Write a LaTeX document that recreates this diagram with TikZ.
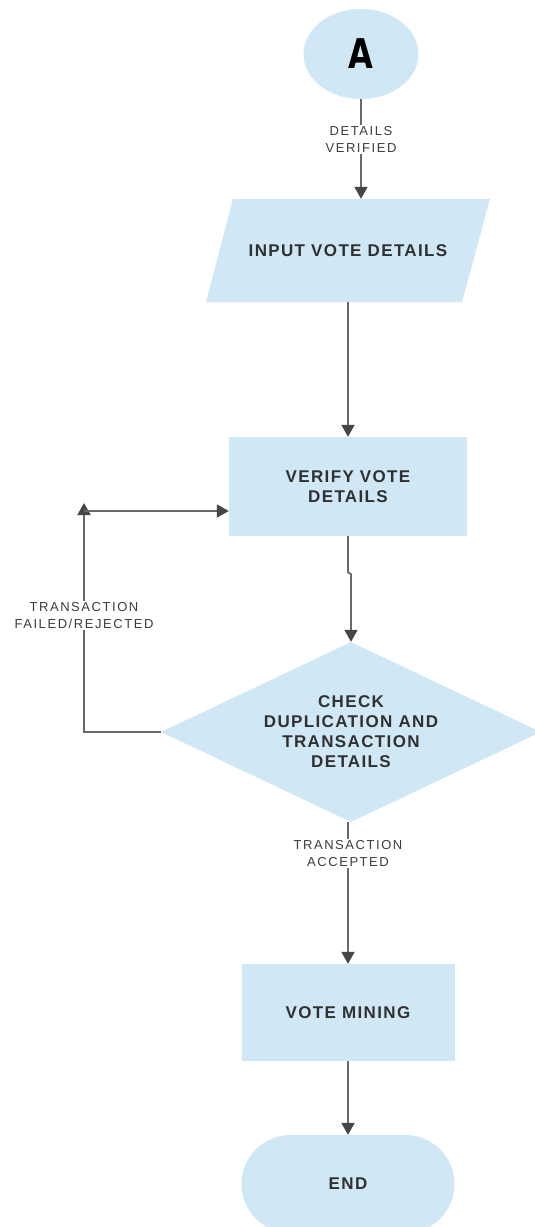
\documentclass[tikz,border=0pt]{standalone}
\usepackage{fontspec}
\usetikzlibrary{shapes.geometric,arrows.meta}
% Fonts: spaced sans for box text and connector tags, a narrow heavy face for the connector letter
\newfontfamily\nodefont{Liberation Sans}[LetterSpace=8]
\newfontfamily\tagfont{Liberation Sans}[LetterSpace=12]
\newfontfamily\heavyfont{DejaVu Sans}[FakeStretch=0.78]
\definecolor{boxfill}{RGB}{208,232,245}
\definecolor{linegray}{RGB}{105,105,105}
\definecolor{tipgray}{RGB}{70,70,70}
\definecolor{textgray}{RGB}{48,48,48}
\definecolor{taggray}{RGB}{60,60,60}
\begin{document}
\begin{tikzpicture}[x=1pt,y=-1pt,
  box/.style={fill=boxfill, draw=none, inner sep=0pt, align=center, text=textgray,
    font=\nodefont\bfseries\fontsize{17pt}{20pt}\selectfont},
  tag/.style={fill=white, inner sep=1.5pt, align=center, text=taggray,
    font=\tagfont\fontsize{13pt}{17pt}\selectfont},
  arr/.style={draw=linegray, line width=1.8pt,
    -{Triangle[width=13pt,length=12pt,color=tipgray]}}]
  % page frame
  \path[use as bounding box, clip] (0,0) rectangle (535,1227);
  \fill[white] (0,0) rectangle (535,1227);

  % connector from the previous page
  \node[ellipse, fill=boxfill, inner sep=0pt, minimum width=115pt, minimum height=90pt,
    text=black, font=\heavyfont\bfseries\fontsize{41pt}{41pt}\selectfont] (A) at (361,54) {A};

  % input step: slanted data box behind its label
  \fill[boxfill] (233,199) -- (490,199) -- (462,302) -- (206,302) -- cycle;
  \node[box, fill=none, minimum width=230pt, minimum height=103pt]
    (inp) at (348,250.5) {INPUT VOTE DETAILS};

  % process steps
  \node[box, minimum width=238pt, minimum height=99pt] (ver) at (348,486.5)
    {VERIFY VOTE\\DETAILS};
  \node[box, diamond, aspect=2.11, minimum width=380pt, minimum height=180pt]
    (dia) at (351,732) {CHECK\\DUPLICATION AND\\TRANSACTION\\DETAILS};
  \node[box, minimum width=213pt, minimum height=97pt] (mine) at (348,1012.5)
    {VOTE MINING};
  \node[box, rounded corners=49pt, minimum width=213pt, minimum height=98pt]
    (end) at (348,1184) {END};

  % loop-back corner points
  \coordinate (up) at (84,503);
  \coordinate (corner) at (84,511);

  % connectors
  \draw[arr] (A) -- node[tag, pos=0.4] {DETAILS\\VERIFIED} (A |- inp.north);
  \draw[arr] (inp.south) -- (ver.north);
  \draw[arr] (ver.south) -- ++(0,36) -- ++(3,2) -- (dia.north);
  \draw[arr] (dia.south -| mine.north) -- node[tag, pos=0.22] {TRANSACTION\\ACCEPTED} (mine.north);
  \draw[arr] (mine.south) -- (end.north);
  \draw[arr] (dia.west) -| node[tag, pos=0.755] {TRANSACTION\\FAILED/REJECTED} (up);
  \draw[arr] (corner) -- (corner -| ver.west);
\end{tikzpicture}
\end{document}
